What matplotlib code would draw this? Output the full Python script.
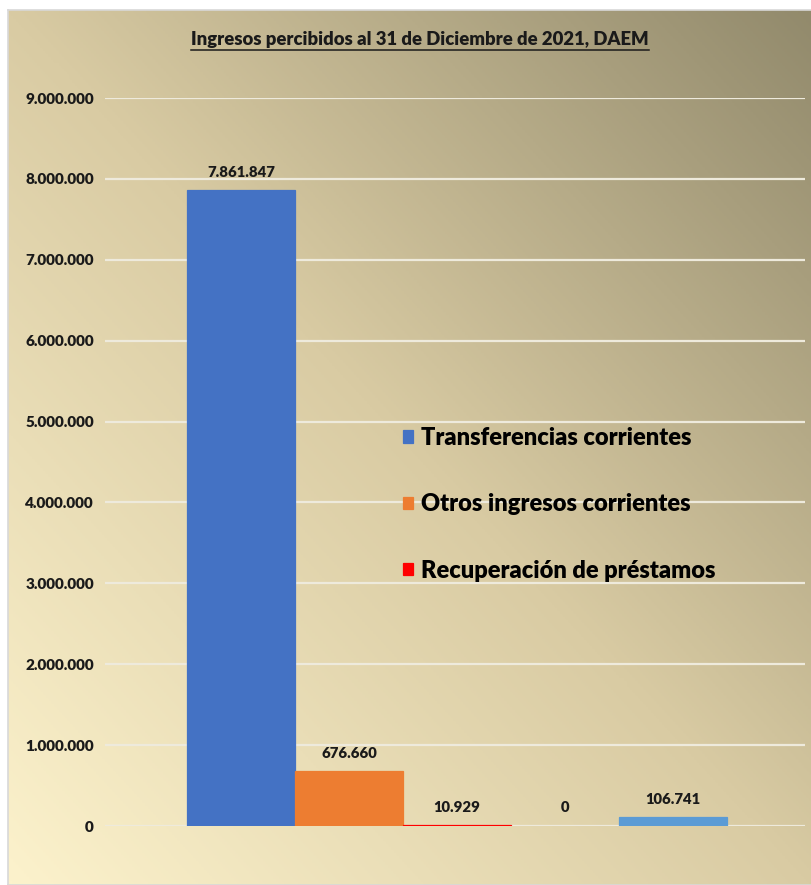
import matplotlib.pyplot as plt
import numpy as np
from matplotlib.colors import LinearSegmentedColormap
from matplotlib.lines import Line2D

# data
series = ["Transferencias corrientes", "Otros ingresos corrientes",
          "Recuperación de préstamos", "", ""]
values = [7861847, 676660, 10929, 0, 106741]
labels = ["7.861.847", "676.660", "10.929", "0", "106.741"]
colors = ["#4472C4", "#ED7D31", "#FF0000", "#A5A5A5", "#5B9BD5"]
yticks = [0, 1000000, 2000000, 3000000, 4000000, 5000000,
          6000000, 7000000, 8000000, 9000000]
ytick_labels = ["0", "1.000.000", "2.000.000", "3.000.000", "4.000.000",
                "5.000.000", "6.000.000", "7.000.000", "8.000.000", "9.000.000"]

plt.rcParams['font.family'] = ['Lato', 'DejaVu Sans']
BOLD = 800

W, H = 812, 885
fig = plt.figure(figsize=(W / 100, H / 100), dpi=100)
fig.patch.set_facecolor("white")

# gradient background of the chart area
bg = fig.add_axes([8 / W, 0, 1 - 8 / W, 1 - 10 / H])
n = 300
gx, gy = np.meshgrid(np.linspace(0, 1, n), np.linspace(0, 1, n))
t = (gx + gy) / 2
cmap = LinearSegmentedColormap.from_list(
    "bg", [(0, "#FCF2CC"), (0.5, "#D9CBA3"), (1, "#928A6C")])
bg.imshow(t, cmap=cmap, origin="lower", aspect="auto", extent=[0, 1, 0, 1])
bg.set_xticks([])
bg.set_yticks([])
for s in bg.spines.values():
    s.set_color("#D8D8D8")
    s.set_linewidth(1.2)

ax = fig.add_axes([105 / W, 59 / H, 700 / W, 728 / H])
ax.set_facecolor("none")
ax.set_axisbelow(True)
x = np.arange(len(values))
# thin edge so the tiny red bar stays visible; none on the empty bar
edge_w = [0.9 if v > 0 else 0 for v in values]
bars = ax.bar(x, values, width=1.0, color=colors, edgecolor=colors,
              linewidth=edge_w, zorder=3)

for xi, v, lab in zip(x, values, labels):
    ax.annotate(lab, (xi, v), xytext=(0, 13), textcoords="offset points",
                ha="center", va="center", fontsize=10.7, fontweight=BOLD,
                color="#1a1a1a")

ax.set_ylim(0, 9000000)
ax.set_xlim(-1.26, 5.22)
ax.set_yticks(yticks)
ax.set_yticklabels(ytick_labels, fontsize=11, fontweight=BOLD)
ax.set_xticks([])
ax.tick_params(axis='y', length=0, pad=8, colors="#1a1a1a")
ax.grid(axis='y', color="#EEEADC", linewidth=1.6)
for s in ax.spines.values():
    s.set_visible(False)

leg = ax.legend(bars[:3], series[:3], loc="upper left",
                bbox_to_anchor=(403 / W, 1 - 427 / H), bbox_transform=fig.transFigure,
                frameon=False, prop={'weight': BOLD, 'size': 17},
                borderpad=0, borderaxespad=0,
                handlelength=0.42, handleheight=0.42, handletextpad=0.34,
                labelspacing=1.88)

title = fig.text(420 / W, 1 - 40 / H,
                 "Ingresos percibidos al 31 de Diciembre de 2021, DAEM",
                 ha="center", va="center", fontsize=13.3, fontweight=BOLD,
                 color="#1a1a1a")

# underline the title
fig.canvas.draw()
bb = title.get_window_extent()
uy = (bb.y0 - 1) / H
fig.add_artist(Line2D([bb.x0 / W, bb.x1 / W], [uy, uy],
                      color="#1a1a1a", linewidth=1.1))

plt.savefig("out.png", dpi=100)
